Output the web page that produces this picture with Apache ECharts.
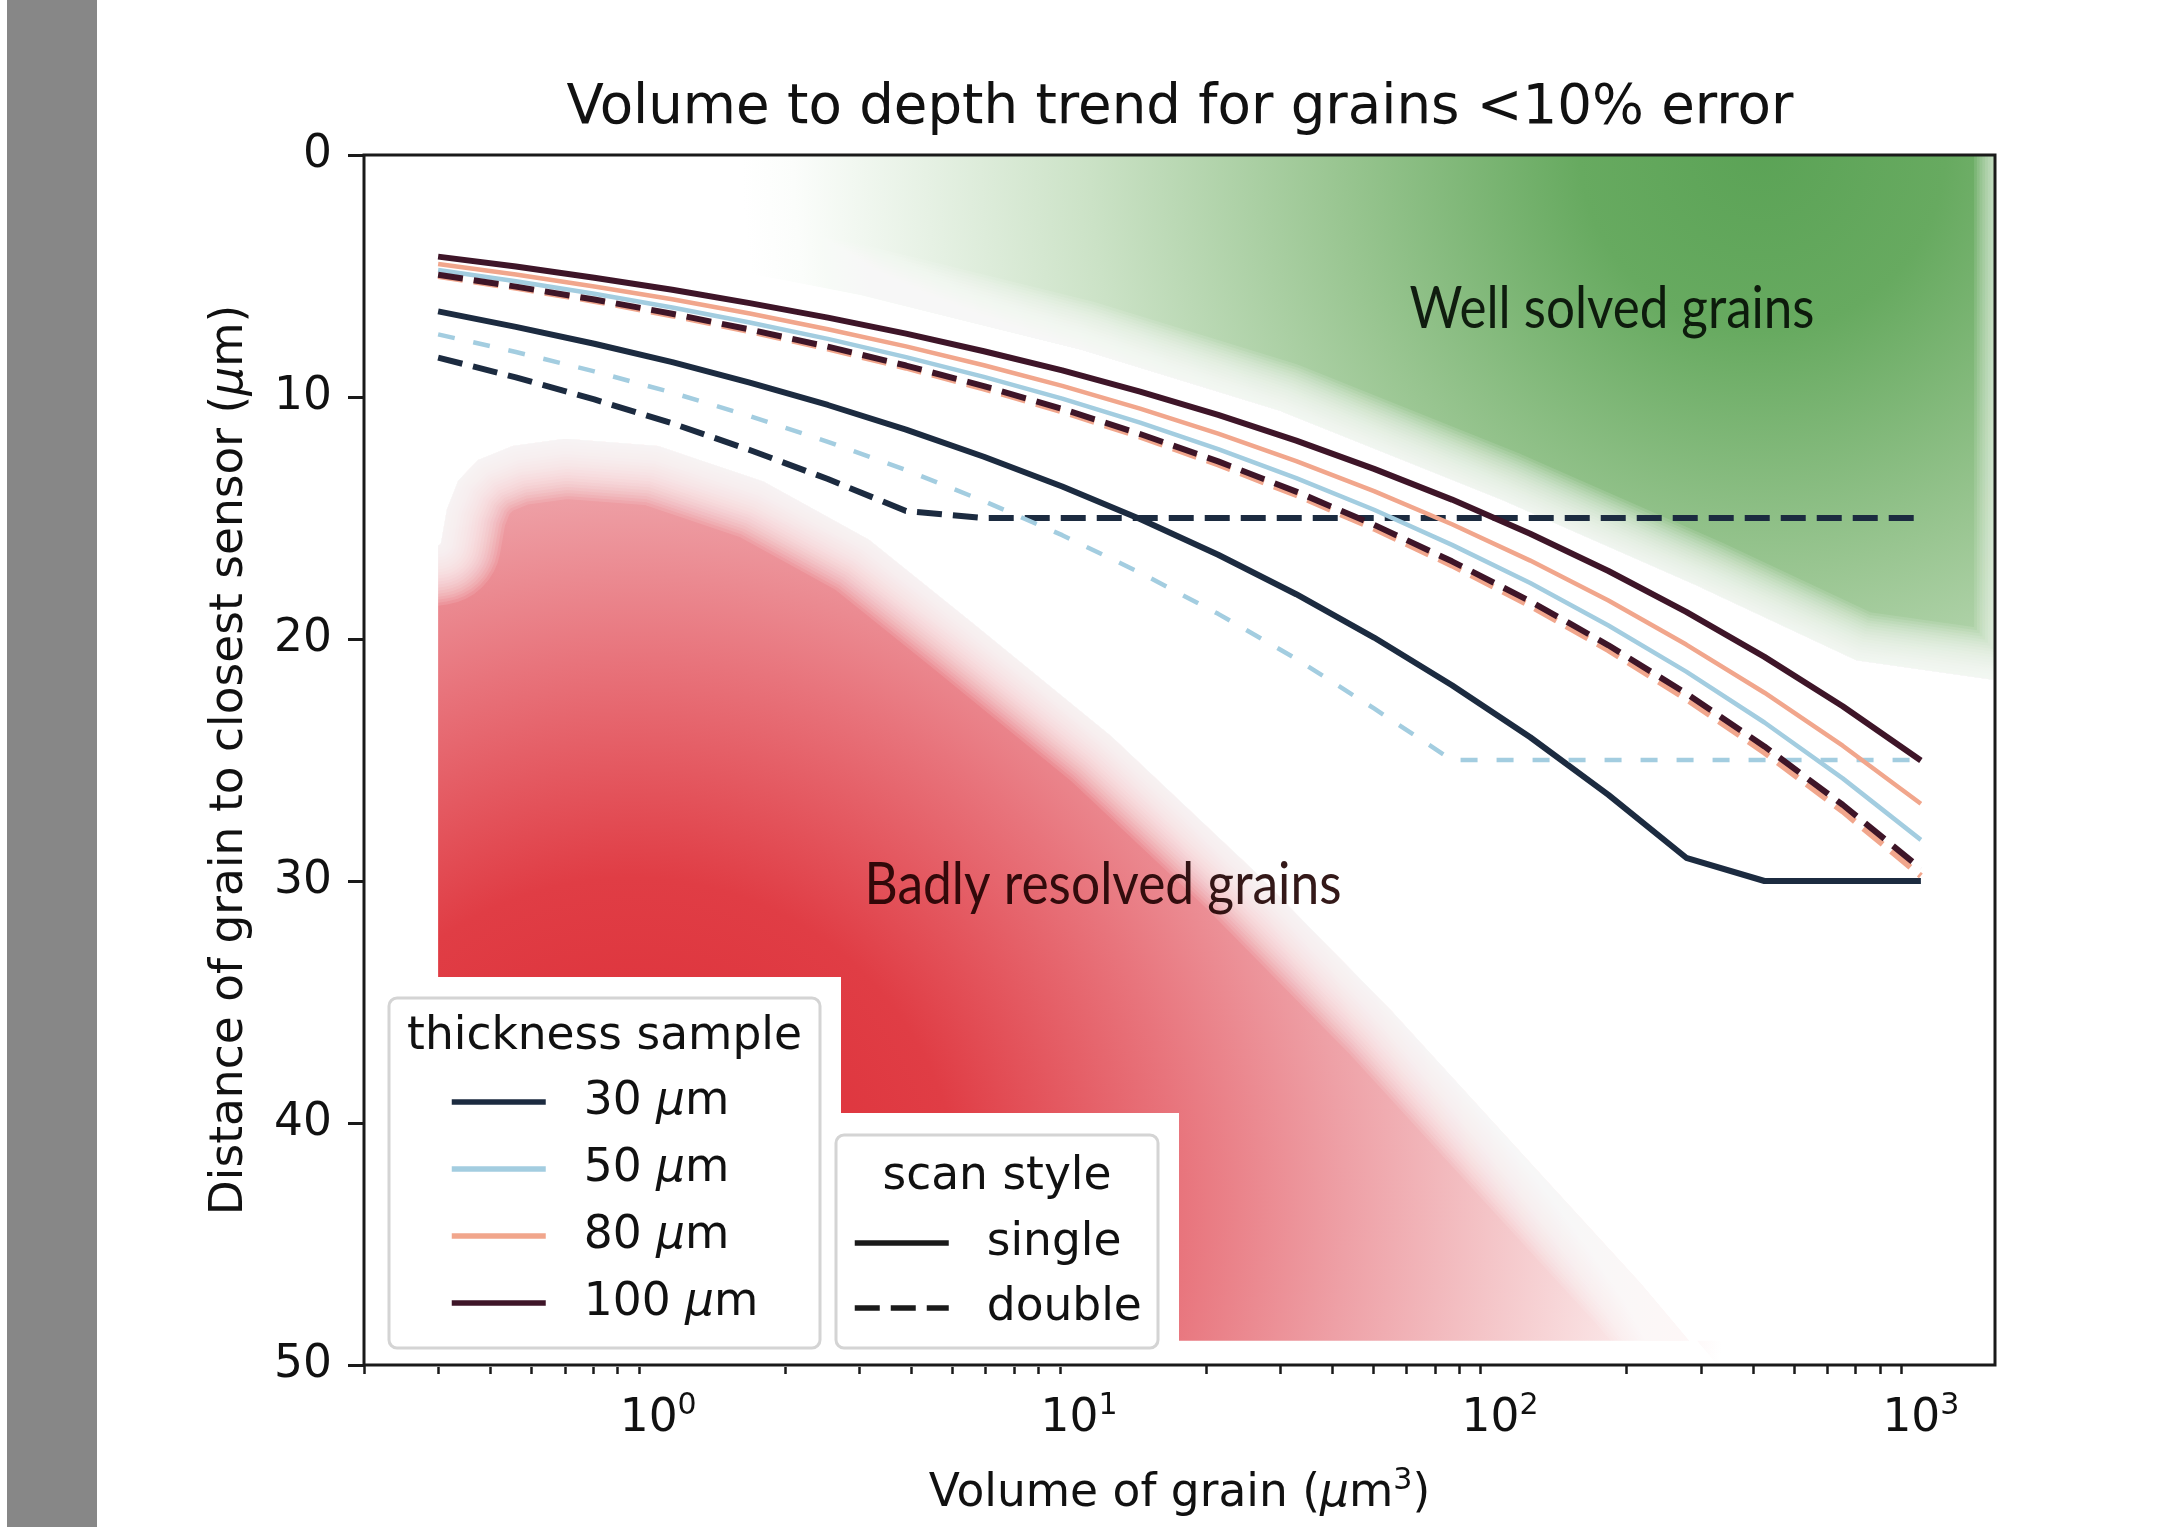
<!DOCTYPE html>
<html><head><meta charset="utf-8">
<script src="https://cdn.jsdelivr.net/npm/echarts@6/dist/echarts.min.js"></script>
<style>html,body{margin:0;padding:0;background:#fff}#c{width:2184px;height:1527px}</style>
</head><body><div id="c"></div><script>
// ---------- data ----------
const volumes = [0.3, 0.459, 0.705, 1.08, 1.65, 2.53, 3.88, 5.94, 9.12, 13.96, 21.4, 32.8, 50.2, 76.9, 118, 181, 277, 425, 652, 1000];
const depth30single  = [6.46, 7.10, 7.80, 8.56, 9.41, 10.33, 11.35, 12.47, 13.70, 15.04, 16.52, 18.15, 19.94, 21.91, 24.06, 26.44, 29.04, 30, 30, 30];
const depth30double  = [8.37, 9.19, 10.10, 11.09, 12.19, 13.39, 14.71, 15, 15, 15, 15, 15, 15, 15, 15, 15, 15, 15, 15, 15];
const depth50single  = [4.75, 5.22, 5.73, 6.30, 6.92, 7.60, 8.35, 9.17, 10.07, 11.06, 12.15, 13.35, 14.66, 16.11, 17.69, 19.44, 21.35, 23.45, 25.76, 28.30];
const depth50double  = [7.41, 8.14, 8.94, 9.82, 10.79, 11.85, 13.02, 14.30, 15.71, 17.26, 18.96, 20.82, 22.87, 25, 25, 25, 25, 25, 25, 25];
const depth80single  = [4.50, 4.94, 5.43, 5.96, 6.55, 7.20, 7.91, 8.69, 9.54, 10.48, 11.51, 12.65, 13.89, 15.26, 16.76, 18.41, 20.23, 22.22, 24.41, 26.81];
const depth80double  = [5.00, 5.49, 6.03, 6.63, 7.28, 8.00, 8.79, 9.65, 10.60, 11.64, 12.79, 14.05, 15.44, 16.96, 18.63, 20.46, 22.48, 24.69, 27.12, 29.79];
const depth100single = [4.20, 4.61, 5.07, 5.57, 6.12, 6.72, 7.38, 8.11, 8.90, 9.78, 10.74, 11.80, 12.97, 14.24, 15.65, 17.19, 18.88, 20.74, 22.78, 25.02];
const depth100double = [4.95, 5.44, 5.97, 6.56, 7.21, 7.92, 8.70, 9.55, 10.49, 11.53, 12.66, 13.91, 15.28, 16.79, 18.44, 20.26, 22.25, 24.44, 26.85, 29.49];

const thicknessNames = ['30 μm', '50 μm', '80 μm', '100 μm'];
const scanNames = ['single', 'double'];
const majorTicks = [1, 10, 100, 1000];
const majorTickExponents = ['0', '1', '2', '3'];
const minorTicks = [0.2,0.3,0.4,0.5,0.6,0.7,0.8,0.9, 2,3,4,5,6,7,8,9, 20,30,40,50,60,70,80,90, 200,300,400,500,600,700,800,900];

// background regions (decorative shading), data coordinates
const greenEdgeX = [0.2, 0.5, 1, 3, 10, 30, 100, 300, 700, 1783];
const greenEdgeY = [2.5, 3.5, 4.3, 5.9, 8.15, 10.7, 14.35, 18.0, 21.0, 22.0];
const greenTopY = -1;
// red region: left edge at x = 0.3; the first point lies outside the plot so the fade starts smoothly
const redEdgeX = [0.12, 0.3, 0.31, 0.33, 0.37, 0.45, 0.6, 1.0, 1.8, 3.2, 5.6, 12, 26, 56, 120, 220, 360];
const redEdgeY = [17.0, 16.0, 14.6, 13.4, 12.5, 11.9, 11.6, 11.9, 13.4, 15.8, 19.2, 23.9, 29.4, 35.3, 41.6, 46.6, 51.0];
const redBottomY = 49;

// ---------- styles ----------
const FONT = 'DejaVu Sans';
const FS = 45.5;
const c30 = '#1c2b40', c50 = '#a3cde0', c80 = '#f1a68c', c100 = '#3e1528';
const DASH = [25, 11];
const greenCenter = [420, -0.3], greenR = 1020;
const redCenter = [0.86, 43.5], redR = 1100;
const greenStops = [
  {offset:0, color:'#5ba356'}, {offset:0.18, color:'#67aa60'}, {offset:0.42, color:'#9ac692'},
  {offset:0.66, color:'#cbe2c6'}, {offset:0.82, color:'#e6f1e4'}, {offset:0.95, color:'#fbfdfb'}, {offset:1, color:'#ffffff'}];
const redStops = [
  {offset:0, color:'#dc2a33'}, {offset:0.3, color:'#e03d45'}, {offset:0.5, color:'#e8747c'},
  {offset:0.65, color:'#eea0a6'}, {offset:0.78, color:'#f4c4c7'}, {offset:0.9, color:'#fae4e5'}, {offset:1, color:'#ffffff'}];

function pairs(ys) { return volumes.map((v, i) => [v, ys[i]]); }
function lineSeries(name, ys, color, width, dashed, dash) {
  return {
    type: 'line', name, data: pairs(ys), symbol: 'none', showSymbol: false, smooth: false,
    z: 2, silent: true,
    lineStyle: { color, width, type: dashed ? (dash || DASH) : 'solid', cap: 'butt' },
    itemStyle: { color }
  };
}
// soft white fade along an edge (stacked translucent strokes)
function softEdge(points, layers, step) {
  const out = [{ type: 'polyline', shape: { points },
    style: { fill: 'none', stroke: '#ffffff', lineWidth: 6, lineJoin: 'round', lineCap: 'round' } }];
  for (let i = 1; i <= layers; i++) {
    out.push({ type: 'polyline', shape: { points },
      style: { fill: 'none', stroke: '#ffffff', lineWidth: 6 + i * step, opacity: 0.11, lineJoin: 'round', lineCap: 'round' } });
  }
  return out;
}
function greenRender(params, api) {
  const last = greenEdgeX.length - 1;
  const edge = greenEdgeX.map((x, i) => api.coord([x, greenEdgeY[i]]));
  edge.push(api.coord([greenEdgeX[last], greenTopY]));
  const pts = [api.coord([greenEdgeX[0], greenTopY])].concat(edge);
  const c = api.coord(greenCenter);
  return { type: 'group', children: [
    { type: 'polygon', shape: { points: pts },
      style: { fill: { type: 'radial', x: c[0], y: c[1], r: greenR, global: true, colorStops: greenStops } } }
  ].concat(softEdge(edge, 18, 5.5)) };
}
function redRender(params, api) {
  const edge = redEdgeX.map((x, i) => api.coord([x, redEdgeY[i]]));
  const body = edge.slice(1);
  const pts = [api.coord([redEdgeX[1], redBottomY])].concat(body, [api.coord([redEdgeX[redEdgeX.length - 1], redBottomY])]);
  const c = api.coord(redCenter);
  return { type: 'group', children: [
    { type: 'polygon', shape: { points: pts },
      style: { fill: { type: 'radial', x: c[0], y: c[1], r: redR, global: true, colorStops: redStops } } }
  ].concat(softEdge(edge, 20, 6)) };
}

// measure region label widths so that they match the reference widths
function fitScale(text, font, target) {
  const ctx = document.createElement('canvas').getContext('2d');
  ctx.font = font;
  return target / ctx.measureText(text).width;
}
const REGION_FONT = "58px Lato, 'Open Sans', sans-serif";
const wellScale = fitScale('Well solved grains', REGION_FONT, 405);
const badScale = fitScale('Badly resolved grains', REGION_FONT, 477);

const legendText = {
  fontFamily: FONT, fontSize: FS, color: '#111', lineHeight: 50, padding: [0, 0, 0, 33],
  rich: { i: { fontFamily: FONT, fontSize: FS, fontStyle: 'italic', color: '#111', lineHeight: 50 } }
};
const supStyle = { fontFamily: FONT, fontSize: 30, color: '#111', verticalAlign: 'top' };

const option = {
  animation: false,
  backgroundColor: '#ffffff',
  textStyle: { fontFamily: FONT },
  grid: { left: 364, top: 155, width: 1631, height: 1214, show: true, borderColor: '#1a1a1a', borderWidth: 3,
          backgroundColor: 'transparent', z: 10 },
  xAxis: [
    { type: 'log', logBase: 10, min: 0.2, max: 1500, gridIndex: 0, position: 'bottom',
      name: 'Volume of grain ({i|μ}m{sup|3})', nameLocation: 'middle', nameGap: 101,
      nameTextStyle: { fontFamily: FONT, fontSize: FS, color: '#111', lineHeight: 56,
        rich: { i: { fontFamily: FONT, fontSize: FS, fontStyle: 'italic', color: '#111' }, sup: supStyle } },
      axisLine: { show: false },
      axisTick: { show: true, customValues: majorTicks, length: 16, lineStyle: { color: '#1a1a1a', width: 3 } },
      axisLabel: { show: true, customValues: majorTicks, margin: 26, fontFamily: FONT, fontSize: FS, color: '#111',
        lineHeight: 56, rich: { sup: supStyle },
        formatter: v => {
          const k = majorTicks.findIndex(t => Math.abs(Math.log10(t) - Math.log10(v)) < 1e-6);
          return k < 0 ? '' : '10{sup|' + majorTickExponents[k] + '}';
        } },
      splitLine: { show: false }, minorTick: { show: false } },
    { type: 'log', logBase: 10, min: 0.2, max: 1500, gridIndex: 0, position: 'bottom',
      axisLine: { show: false }, axisLabel: { show: false }, splitLine: { show: false },
      axisTick: { show: true, customValues: minorTicks, length: 9, lineStyle: { color: '#1a1a1a', width: 2.5 } } }
  ],
  yAxis: {
    type: 'value', inverse: true, min: 0, max: 50, interval: 10,
    name: 'Distance of grain to closest sensor ({i|μ}m)', nameLocation: 'middle', nameGap: 111,
    nameTextStyle: { fontFamily: FONT, fontSize: FS, color: '#111',
      rich: { i: { fontFamily: FONT, fontSize: FS, fontStyle: 'italic', color: '#111' } } },
    axisLine: { show: false },
    axisTick: { show: true, length: 16, lineStyle: { color: '#1a1a1a', width: 3 } },
    axisLabel: { margin: 32, fontFamily: FONT, fontSize: FS, color: '#111' },
    splitLine: { show: false }
  },
  legend: [
    { data: thicknessNames, orient: 'vertical', left: 449, top: 1077, itemWidth: 94, itemHeight: 4, itemGap: 17,
      padding: 0, selectedMode: false, z: 6, textStyle: legendText, itemStyle: { opacity: 0 },
      lineStyle: { width: 5.5 }, formatter: n => n.replace('μ', '{i|μ}') },
    { data: scanNames, orient: 'vertical', left: 852, top: 1218, itemWidth: 94, itemHeight: 4, itemGap: 15,
      padding: 0, selectedMode: false, z: 6, textStyle: legendText, itemStyle: { opacity: 0 },
      lineStyle: { width: 5.5 } }
  ],
  graphic: [
    { type: 'rect', shape: { x: 7, y: 0, width: 90, height: 1527 }, style: { fill: '#878787' }, z: 0 },
    { type: 'text', x: 1180, y: 109, z: 5,
      style: { text: 'Volume to depth trend for grains <10% error', font: '54.6px "DejaVu Sans"', fill: '#111',
               align: 'center', verticalAlign: 'middle', textAlign: 'center', textVerticalAlign: 'middle' } },
    // white margins around the legend boxes
    { type: 'rect', shape: { x: 366, y: 977, width: 475, height: 390 }, style: { fill: '#ffffff' }, z: 1.5 },
    { type: 'rect', shape: { x: 820, y: 1113, width: 359, height: 254 }, style: { fill: '#ffffff' }, z: 1.5 },
    // legend frames
    { type: 'rect', shape: { x: 389, y: 998, width: 431, height: 350, r: 8 },
      style: { fill: '#ffffff', stroke: '#d4d4d4', lineWidth: 3 }, z: 3 },
    { type: 'rect', shape: { x: 836, y: 1135, width: 322, height: 213, r: 8 },
      style: { fill: '#ffffff', stroke: '#d4d4d4', lineWidth: 3 }, z: 3 },
    { type: 'text', x: 604.5, y: 1037, z: 7,
      style: { text: 'thickness sample', font: FS + 'px "DejaVu Sans"', fill: '#111',
               align: 'center', verticalAlign: 'middle', textAlign: 'center', textVerticalAlign: 'middle' } },
    { type: 'text', x: 997, y: 1177, z: 7,
      style: { text: 'scan style', font: FS + 'px "DejaVu Sans"', fill: '#111',
               align: 'center', verticalAlign: 'middle', textAlign: 'center', textVerticalAlign: 'middle' } },
    // region labels
    { type: 'text', x: 1612, y: 309, z: 3, scaleX: wellScale,
      style: { text: 'Well solved grains', font: REGION_FONT, fill: 'rgba(5,15,5,0.92)',
               align: 'center', verticalAlign: 'middle', textAlign: 'center', textVerticalAlign: 'middle' } },
    { type: 'text', x: 1103, y: 885, z: 3, scaleX: badScale,
      style: { text: 'Badly resolved grains', font: REGION_FONT, fill: 'rgba(30,0,0,0.9)',
               align: 'center', verticalAlign: 'middle', textAlign: 'center', textVerticalAlign: 'middle' } }
  ],
  series: [
    { type: 'custom', name: 'green', coordinateSystem: 'cartesian2d', xAxisIndex: 0, yAxisIndex: 0,
      data: [[1, 1]], renderItem: greenRender, z: 1, silent: true, clip: true },
    { type: 'custom', name: 'red', coordinateSystem: 'cartesian2d', xAxisIndex: 0, yAxisIndex: 0,
      data: [[1, 1]], renderItem: redRender, z: 1, silent: true, clip: true },
    lineSeries('30 μm', depth30single, c30, 6, false),
    lineSeries('30 μm', depth30double, c30, 6, true),
    lineSeries('50 μm', depth50single, c50, 4.5, false),
    lineSeries('50 μm', depth50double, c50, 4.5, true, [17, 19]),
    lineSeries('80 μm', depth80single, c80, 4.5, false),
    lineSeries('80 μm', depth80double, c80, 6, true),
    lineSeries('100 μm', depth100single, c100, 6, false),
    lineSeries('100 μm', depth100double, c100, 6, true),
    { type: 'line', name: 'single', data: [], symbol: 'none', lineStyle: { color: '#1a1a1a', width: 6, type: 'solid' }, itemStyle: { color: '#1a1a1a' } },
    { type: 'line', name: 'double', data: [], symbol: 'none', lineStyle: { color: '#1a1a1a', width: 6, type: DASH }, itemStyle: { color: '#1a1a1a' } }
  ]
};
const chart = echarts.init(document.getElementById('c'), null, { renderer: 'canvas', width: 2184, height: 1527 });
chart.setOption(option);
</script></body></html>
